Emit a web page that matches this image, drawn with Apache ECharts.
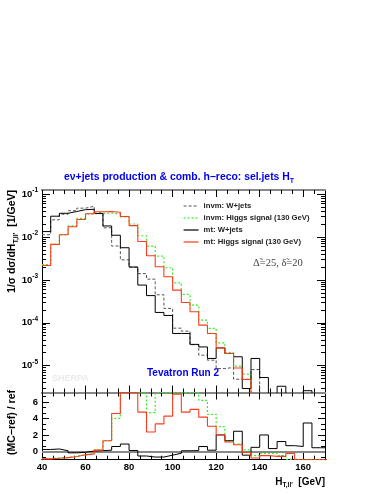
<!DOCTYPE html>
<html>
<head>
<meta charset="utf-8">
<script src="https://cdn.jsdelivr.net/npm/echarts@6.0.0/dist/echarts.min.js"></script>
<style>
html,body{margin:0;padding:0;background:#fff;}
#chart{width:382px;height:494px;}
</style>
</head>
<body>
<div id="chart"></div>
<script>
// ---- data ----
const binEdges = [40,44,48,52,56,60,64,68,72,76,80,84,88,92,96,100,104,108,112,116,120,124,128,132,136,140,144,148,152,156,160,164,168,172];

// 1/sigma dsigma/dH_T [1/GeV]
const invmWjets = [0.0113,0.0252,0.034,0.0411,0.0471,0.0521,0.0363,0.0164,0.00616,0.00293,0.00199,0.0014,0.00104,4.49e-4,2.16e-4,7.48e-5,6.37e-5,3.08e-5,1.75e-5,1.34e-5,8.55e-6,9.03e-6,4.81e-6,4.81e-6,8.11e-6,0,0,0,0,0,0,0,0];
const invmHiggs = [0.00228,0.00675,0.0114,0.0181,0.0271,0.0348,0.0354,0.0363,0.0345,0.0293,0.0201,0.0107,0.00616,0.0036,0.00192,8.55e-4,4.58e-4,2.58e-4,1.15e-4,7.36e-5,3.39e-5,2.02e-5,9.68e-6,6.3e-6,0,0,0,0,0,0,0,0,0];
const mtWjets = [0.0134,0.0306,0.0358,0.0394,0.0435,0.0444,0.0354,0.0181,0.011,0.00562,0.00199,7.57e-4,4.3e-4,1.74e-4,1.48e-4,5.62e-5,5.62e-5,3.13e-5,2.73e-5,1.47e-5,2.59e-5,1.92e-5,1.61e-5,2.92e-6,1.47e-5,5.27e-6,0,3.3e-6,0,0,2.6e-6,0,0];
const mtHiggs = [0.00216,0.00675,0.01132,0.0173,0.0256,0.0348,0.0388,0.0394,0.0378,0.0301,0.0184,0.00785,0.00366,0.00202,0.00118,5.78e-4,2.98e-4,1.8e-4,8.79e-5,5.62e-5,2.59e-5,1.92e-5,8.83e-6,4.73e-6,0,0,0,0,0,0,0,0,0];

// (MC-ref)/ref, ref = invm: W+jets
const ratioInvmHiggs = [-0.88,-0.8,-0.75,-0.6,-0.4,-0.3,0.2,1.3,4.0,7.15,7.15,7.0,4.7,7.15,7.15,7.15,7.15,7.15,6.2,4.5,3.0,1.26,0.9,0.2,-0.5,-0.25,-0.25,-0.5,-0.95,-1,-1,-1,-1];
const ratioMtWjets = [0.24,0.3,0.08,-0.17,-0.1,0.05,0.1,0.15,0.6,0.9,0.12,-0.55,-0.68,-0.68,-0.45,-0.22,0.08,0.1,0.6,0.15,2.0,1.3,2.45,-0.45,0.5,2.0,0.35,1.2,0.7,0.6,3.45,0.45,0.45];
const ratioMtHiggs = [-0.9,-0.82,-0.75,-0.62,-0.41,-0.29,0.16,1.3,4.6,7.15,7.15,4.77,2.36,3.34,4.28,6.93,4.77,5.1,4.16,3.06,2.03,1.14,0.81,-0.12,-0.8,-0.5,-0.6,-0.6,-0.25,-1,-1,-1,-1];

// ticks
const xTickLabels = [40,60,80,100,120,140,160];
const xMinorTicks = [45,50,55,65,70,75,85,90,95,105,110,115,125,130,135,145,150,155,165];
const yTickLabels = [1e-5,1e-4,1e-3,1e-2,1e-1];
const ratioTickLabels = [0,2,4,6];
const ratioMinorTicks = [-2/3,2/3,4/3,8/3,10/3,14/3,16/3,20/3];

const seriesNames = ['invm: W+jets','invm: Higgs signal (130 GeV)','mt: W+jets','mt: Higgs signal (130 GeV)'];

// ---- build ----
const yMin = 2.36e-6, yMax = 0.125;
const yMinorTicks = [];
for (let e = -6; e <= -1; e++) for (let k = 2; k <= 9; k++) { const v = k * Math.pow(10, e); if (v > yMin && v < yMax) yMinorTicks.push(v); }

const FONT = 'Liberation Sans';
const G0 = {left:42, top:190, width:283, height:202.5};
const G1 = {left:42, top:392.5, width:283, height:67.2};

function stepData(vals, floor) {
  const d = vals.map((v, i) => [binEdges[i], (floor !== undefined && v <= 0) ? floor : v]);
  d.push([binEdges[vals.length], d[d.length - 1][1]]);
  return d;
}

function xAx(gi, pos, ticks, len, lineColor, lineWidth, labels) {
  return {
    type:'value', gridIndex:gi, position:pos, min:40, max:170,
    axisLine:{show:true, onZero:false, lineStyle:{color:lineColor, width:lineWidth}},
    axisTick:{show:true, inside:true, length:len, customValues:ticks, lineStyle:{color:'#000', width:1}},
    axisLabel: labels ? {show:true, customValues:xTickLabels, margin:3, color:'#000', fontSize:9.5, fontWeight:'bold', fontFamily:FONT} : {show:false},
    splitLine:{show:false}, minorTick:{show:false}
  };
}
function yAx(gi, pos, base, ticks, len, labelOpt) {
  return Object.assign({}, base, {
    gridIndex:gi, position:pos,
    axisLine:{show:true, onZero:false, lineStyle:{color:'#000', width:1}},
    axisTick:{show:true, inside:true, length:len, customValues:ticks, lineStyle:{color:'#000', width:1}},
    axisLabel: labelOpt || {show:false},
    splitLine:{show:false}, minorTick:{show:false}
  });
}
const logBase = {type:'log', logBase:10, min:yMin, max:yMax};
const ratioBase = {type:'value', min:-1, max:7.15};

const xAxis = [
  xAx(0,'bottom',xTickLabels,7,'#888',2,false),   // 0
  xAx(0,'bottom',xMinorTicks,4,'#888',2,false),   // 1
  xAx(0,'top',xTickLabels,7,'#888',2,false),      // 2
  xAx(0,'top',xMinorTicks,4,'#888',2,false),      // 3
  xAx(1,'bottom',xTickLabels,7,'#000',1,true),    // 4
  xAx(1,'bottom',xMinorTicks,4,'#000',1,false),   // 5
  xAx(1,'top',xTickLabels,7,'#888',2,false),      // 6
  xAx(1,'top',xMinorTicks,4,'#888',2,false)       // 7
];
const yAxis = [
  yAx(0,'left',logBase,yTickLabels,8,{
    show:true, customValues:yTickLabels, margin:4,
    formatter: v => '{b|10}{s|' + Math.round(Math.log10(v)) + '}',
    rich:{
      b:{fontSize:9.5, fontWeight:'bold', fontFamily:FONT, color:'#000', lineHeight:14},
      s:{fontSize:6.5, fontWeight:'bold', fontFamily:FONT, color:'#000', verticalAlign:'top'}
    }
  }),                                              // 0
  yAx(0,'left',logBase,yMinorTicks,4),             // 1
  yAx(0,'right',logBase,yTickLabels,8),            // 2
  yAx(0,'right',logBase,yMinorTicks,4),            // 3
  yAx(1,'left',ratioBase,ratioTickLabels,7,{
    show:true, customValues:ratioTickLabels, margin:4, color:'#000', fontSize:9.5, fontWeight:'bold', fontFamily:FONT
  }),                                              // 4
  yAx(1,'left',ratioBase,ratioMinorTicks,4),       // 5
  yAx(1,'right',ratioBase,ratioTickLabels,7),      // 6
  yAx(1,'right',ratioBase,ratioMinorTicks,4)       // 7
];

const styles = [
  {color:'#555555', width:1, type:[3,2]},
  {color:'#33ee22', width:1.2, type:[2,2]},
  {color:'#000000', width:1, type:'solid'},
  {color:'#ff3b1b', width:1.1, type:'solid'}
];
const topData = [invmWjets, invmHiggs, mtWjets, mtHiggs];

const series = [];
topData.forEach((vals, i) => {
  series.push({
    name:seriesNames[i], type:'line', xAxisIndex:0, yAxisIndex:0, step:'end', symbol:'none',
    data:stepData(vals, 1e-9), clip:true, z:3+i,
    color:styles[i].color,
    itemStyle:{opacity:0},
    lineStyle:{color:styles[i].color, width:styles[i].width, type:styles[i].type},
    emphasis:{disabled:true}
  });
});
const ratioData = [[ratioInvmHiggs,1],[ratioMtWjets,2],[ratioMtHiggs,3]];
ratioData.forEach(([vals, si], k) => {
  const s = {
    name:'ratio ' + seriesNames[si], type:'line', xAxisIndex:4, yAxisIndex:4, step:'end', symbol:'none',
    data:stepData(vals), clip:true, z:3+si,
    lineStyle:{color:styles[si].color, width:styles[si].width, type:styles[si].type},
    emphasis:{disabled:true}
  };
  if (k === 0) {
    s.markLine = {silent:true, symbol:['none','none'], label:{show:false}, z:2,
      lineStyle:{color:'#888', width:2, type:'solid'}, data:[{yAxis:0}]};
  }
  series.push(s);
});

const option = {
  animation:false,
  backgroundColor:'#fff',
  grid:[Object.assign({outerBoundsMode:'none', containLabel:false}, G0), Object.assign({outerBoundsMode:'none', containLabel:false}, G1)],
  xAxis, yAxis, series,
  legend:{
    data:seriesNames, orient:'vertical', left:183, top:202, padding:0,
    itemWidth:15, itemHeight:7, itemGap:4, selectedMode:false,
    itemStyle:{opacity:0},
    lineStyle:{width:1.2},
    textStyle:{fontSize:7.7, fontWeight:'bold', fontFamily:FONT, color:'#222'}
  },
  graphic:[
    {type:'text', x:64, y:177, style:{
      text:'{t|eν+jets production & comb. h−reco: sel.jets H}{s|T}',
      verticalAlign:'middle', align:'left',
      rich:{t:{fontSize:10.4, fontWeight:'bold', fontFamily:FONT, fill:'#0000ee', lineHeight:15},
            s:{fontSize:7, fontWeight:'bold', fontFamily:FONT, fill:'#0000ee', verticalAlign:'bottom'}}
    }},
    {type:'text', x:12, y:190, rotation:Math.PI/2, style:{
      text:"{m|1/σ dσ/dH}{s|T,ll'}{m|  [1/GeV]}",
      align:'right', verticalAlign:'middle',
      rich:{m:{fontSize:10.5, fontWeight:'bold', fontFamily:FONT, fill:'#000', lineHeight:15},
            s:{fontSize:7, fontWeight:'bold', fontFamily:FONT, fill:'#000', verticalAlign:'bottom'}}
    }},
    {type:'text', x:12, y:390, rotation:Math.PI/2, style:{
      text:'(MC−ref) / ref', align:'right', verticalAlign:'middle',
      fontSize:10.5, fontWeight:'bold', fontFamily:FONT, fill:'#000'
    }},
    {type:'text', x:325, y:482, style:{
      text:"{m|H}{s|T,ll'}{m|  [GeV]}", align:'right', verticalAlign:'middle',
      rich:{m:{fontSize:10, fontWeight:'bold', fontFamily:FONT, fill:'#000', lineHeight:14},
            s:{fontSize:6.5, fontWeight:'bold', fontFamily:FONT, fill:'#000', verticalAlign:'bottom'}}
    }},
    {type:'text', x:253, y:263, style:{
      text:'Δ̃=25, δ̃=20', align:'left', verticalAlign:'middle',
      fontSize:10.5, fontFamily:'Liberation Serif', fill:'#444'
    }},
    {type:'text', x:147, y:373, style:{
      text:'Tevatron Run 2', align:'left', verticalAlign:'middle',
      fontSize:10, fontWeight:'bold', fontFamily:FONT, fill:'#0000ee'
    }},
    {type:'text', x:52, y:379, z:-1, style:{
      text:'SHERPA', align:'left', verticalAlign:'middle',
      fontSize:9, fontWeight:'bold', fontFamily:FONT, fill:'#ebebeb'
    }}
  ]
};

const chart = echarts.init(document.getElementById('chart'), null, {renderer:'canvas'});
chart.setOption(option);
</script>
</body>
</html>
